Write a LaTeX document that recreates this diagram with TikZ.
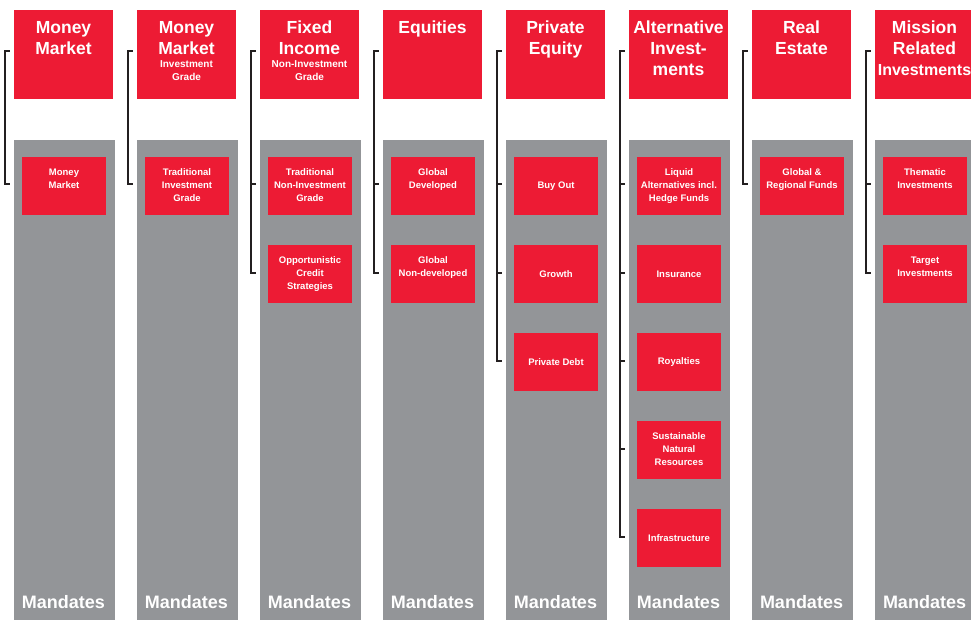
\documentclass[tikz,border=0pt]{standalone}
\usepackage{fontspec}
\setmainfont{Liberation Sans}
\definecolor{fundred}{HTML}{ED1B34}
\definecolor{fundgray}{HTML}{939598}
\definecolor{brackdark}{HTML}{231F20}
% header text: big title, small line(s) below
\newcommand{\headtext}[2]{\parbox[c][89pt][t]{99pt}{\centering\vspace*{8.8pt}%
  \fontsize{17.5}{21}\selectfont\strut#1\par\fontsize{10}{13}\selectfont#2\par}}
% multi-line text in a mandate box
\newcommand{\boxtext}[1]{\parbox[c][58pt][t]{84pt}{\centering\vspace*{9.4pt}\strut#1}}
\begin{document}
\begin{tikzpicture}[x=1pt, y=-1pt,
    head/.style={fill=fundred, text=white, font=\bfseries, inner sep=0pt, minimum width=99pt, minimum height=89pt},
    panel/.style={fill=fundgray, inner sep=0pt, minimum width=101pt, minimum height=480pt},
    sub/.style={fill=fundred, text=white, font=\bfseries\fontsize{9.5}{13}\selectfont, inner sep=0pt, minimum width=84pt, minimum height=58pt},
    mand/.style={text=white, font=\bfseries\fontsize{18}{20}\selectfont, anchor=base, inner sep=0pt},
    brk/.style={draw=brackdark, line width=2pt}]
    \useasboundingbox (0,0) rectangle (971,620);

    % grey mandate panels
    \node[panel] (p1) at (64.5, 380) {};
    \node[panel] (p2) at (187.5, 380) {};
    \node[panel] (p3) at (310.5, 380) {};
    \node[panel] (p4) at (433.5, 380) {};
    \node[panel] (p5) at (556.5, 380) {};
    \node[panel] (p6) at (679.5, 380) {};
    \node[panel] (p7) at (802.5, 380) {};
    \node[panel] (p8) at (925.5, 380) {};

    % asset class headers
    \node[head] (h1) at (63.5, 54.5) {\headtext{Money\\Market}{}};
    \node[head] (h2) at (186.5, 54.5) {\headtext{Money\\Market}{Investment\\Grade}};
    \node[head] (h3) at (309.5, 54.5) {\headtext{Fixed\\Income}{Non-Investment\\Grade}};
    \node[head] (h4) at (432.5, 54.5) {\headtext{Equities}{}};
    \node[head] (h5) at (555.5, 54.5) {\headtext{Private\\Equity}{}};
    \node[head] (h6) at (678.5, 54.5) {\headtext{Alternative\\Invest-\\ments}{}};
    \node[head] (h7) at (801.5, 54.5) {\headtext{Real\\Estate}{}};
    \node[head] (h8) at (924.5, 54.5) {\headtext{Mission\\Related\\{\fontsize{16}{21}\selectfont Investments}}{}};

    % mandates
    \node[sub] (s1a) at (64, 186) {\boxtext{Money\\Market}};
    \node[sub] (s2a) at (187, 186) {\boxtext{Traditional\\Investment\\Grade}};
    \node[sub] (s3a) at (310, 186) {\boxtext{Traditional\\Non-Investment\\Grade}};
    \node[sub] (s3b) at (310, 274) {\boxtext{Opportunistic\\Credit\\Strategies}};
    \node[sub] (s4a) at (433, 186) {\boxtext{Global\\Developed}};
    \node[sub] (s4b) at (433, 274) {\boxtext{Global\\Non-developed}};
    \node[sub] (s5a) at (556, 186) {Buy Out};
    \node[sub] (s5b) at (556, 274) {Growth};
    \node[sub] (s5c) at (556, 362) {Private Debt};
    \node[sub] (s6a) at (679, 186) {\boxtext{Liquid\\Alternatives incl.\\Hedge Funds}};
    \node[sub] (s6b) at (679, 274) {Insurance};
    \node[sub] (s6c) at (679, 362) {Royalties};
    \node[sub] (s6d) at (679, 450) {\boxtext{Sustainable\\Natural\\Resources}};
    \node[sub] (s6e) at (679, 538) {Infrastructure};
    \node[sub] (s7a) at (802, 186) {\boxtext{Global \&\\Regional Funds}};
    \node[sub] (s8a) at (925, 186) {\boxtext{Thematic\\Investments}};
    \node[sub] (s8b) at (925, 274) {\boxtext{Target\\Investments}};

    \node[mand] (m1) at (63.5, 608) {Mandates};
    \node[mand] (m2) at (186.5, 608) {Mandates};
    \node[mand] (m3) at (309.5, 608) {Mandates};
    \node[mand] (m4) at (432.5, 608) {Mandates};
    \node[mand] (m5) at (555.5, 608) {Mandates};
    \node[mand] (m6) at (678.5, 608) {Mandates};
    \node[mand] (m7) at (801.5, 608) {Mandates};
    \node[mand] (m8) at (924.5, 608) {Mandates};

    % brackets
    \draw[brk] ([xshift=-4pt,yshift=3.5pt]h1.west) -- ([xshift=-8.5pt,yshift=3.5pt]h1.west) |- ([xshift=-4pt,yshift=1.5pt]s1a.west -| h1.west);
    \draw[brk] ([xshift=-4pt,yshift=3.5pt]h2.west) -- ([xshift=-8.5pt,yshift=3.5pt]h2.west) |- ([xshift=-4pt,yshift=1.5pt]s2a.west -| h2.west);
    \draw[brk] ([xshift=-4pt,yshift=3.5pt]h3.west) -- ([xshift=-8.5pt,yshift=3.5pt]h3.west) |- ([xshift=-4pt,yshift=1.5pt]s3b.west -| h3.west);
    \draw[brk] ([xshift=-8.5pt,yshift=1.5pt]s3a.west -| h3.west) -- ([xshift=-4pt,yshift=1.5pt]s3a.west -| h3.west);
    \draw[brk] ([xshift=-4pt,yshift=3.5pt]h4.west) -- ([xshift=-8.5pt,yshift=3.5pt]h4.west) |- ([xshift=-4pt,yshift=1.5pt]s4b.west -| h4.west);
    \draw[brk] ([xshift=-8.5pt,yshift=1.5pt]s4a.west -| h4.west) -- ([xshift=-4pt,yshift=1.5pt]s4a.west -| h4.west);
    \draw[brk] ([xshift=-4pt,yshift=3.5pt]h5.west) -- ([xshift=-8.5pt,yshift=3.5pt]h5.west) |- ([xshift=-4pt,yshift=1.5pt]s5c.west -| h5.west);
    \draw[brk] ([xshift=-8.5pt,yshift=1.5pt]s5a.west -| h5.west) -- ([xshift=-4pt,yshift=1.5pt]s5a.west -| h5.west);
    \draw[brk] ([xshift=-8.5pt,yshift=1.5pt]s5b.west -| h5.west) -- ([xshift=-4pt,yshift=1.5pt]s5b.west -| h5.west);
    \draw[brk] ([xshift=-4pt,yshift=3.5pt]h6.west) -- ([xshift=-8.5pt,yshift=3.5pt]h6.west) |- ([xshift=-4pt,yshift=1.5pt]s6e.west -| h6.west);
    \draw[brk] ([xshift=-8.5pt,yshift=1.5pt]s6a.west -| h6.west) -- ([xshift=-4pt,yshift=1.5pt]s6a.west -| h6.west);
    \draw[brk] ([xshift=-8.5pt,yshift=1.5pt]s6b.west -| h6.west) -- ([xshift=-4pt,yshift=1.5pt]s6b.west -| h6.west);
    \draw[brk] ([xshift=-8.5pt,yshift=1.5pt]s6c.west -| h6.west) -- ([xshift=-4pt,yshift=1.5pt]s6c.west -| h6.west);
    \draw[brk] ([xshift=-8.5pt,yshift=1.5pt]s6d.west -| h6.west) -- ([xshift=-4pt,yshift=1.5pt]s6d.west -| h6.west);
    \draw[brk] ([xshift=-4pt,yshift=3.5pt]h7.west) -- ([xshift=-8.5pt,yshift=3.5pt]h7.west) |- ([xshift=-4pt,yshift=1.5pt]s7a.west -| h7.west);
    \draw[brk] ([xshift=-4pt,yshift=3.5pt]h8.west) -- ([xshift=-8.5pt,yshift=3.5pt]h8.west) |- ([xshift=-4pt,yshift=1.5pt]s8b.west -| h8.west);
    \draw[brk] ([xshift=-8.5pt,yshift=1.5pt]s8a.west -| h8.west) -- ([xshift=-4pt,yshift=1.5pt]s8a.west -| h8.west);
\end{tikzpicture}
\end{document}
